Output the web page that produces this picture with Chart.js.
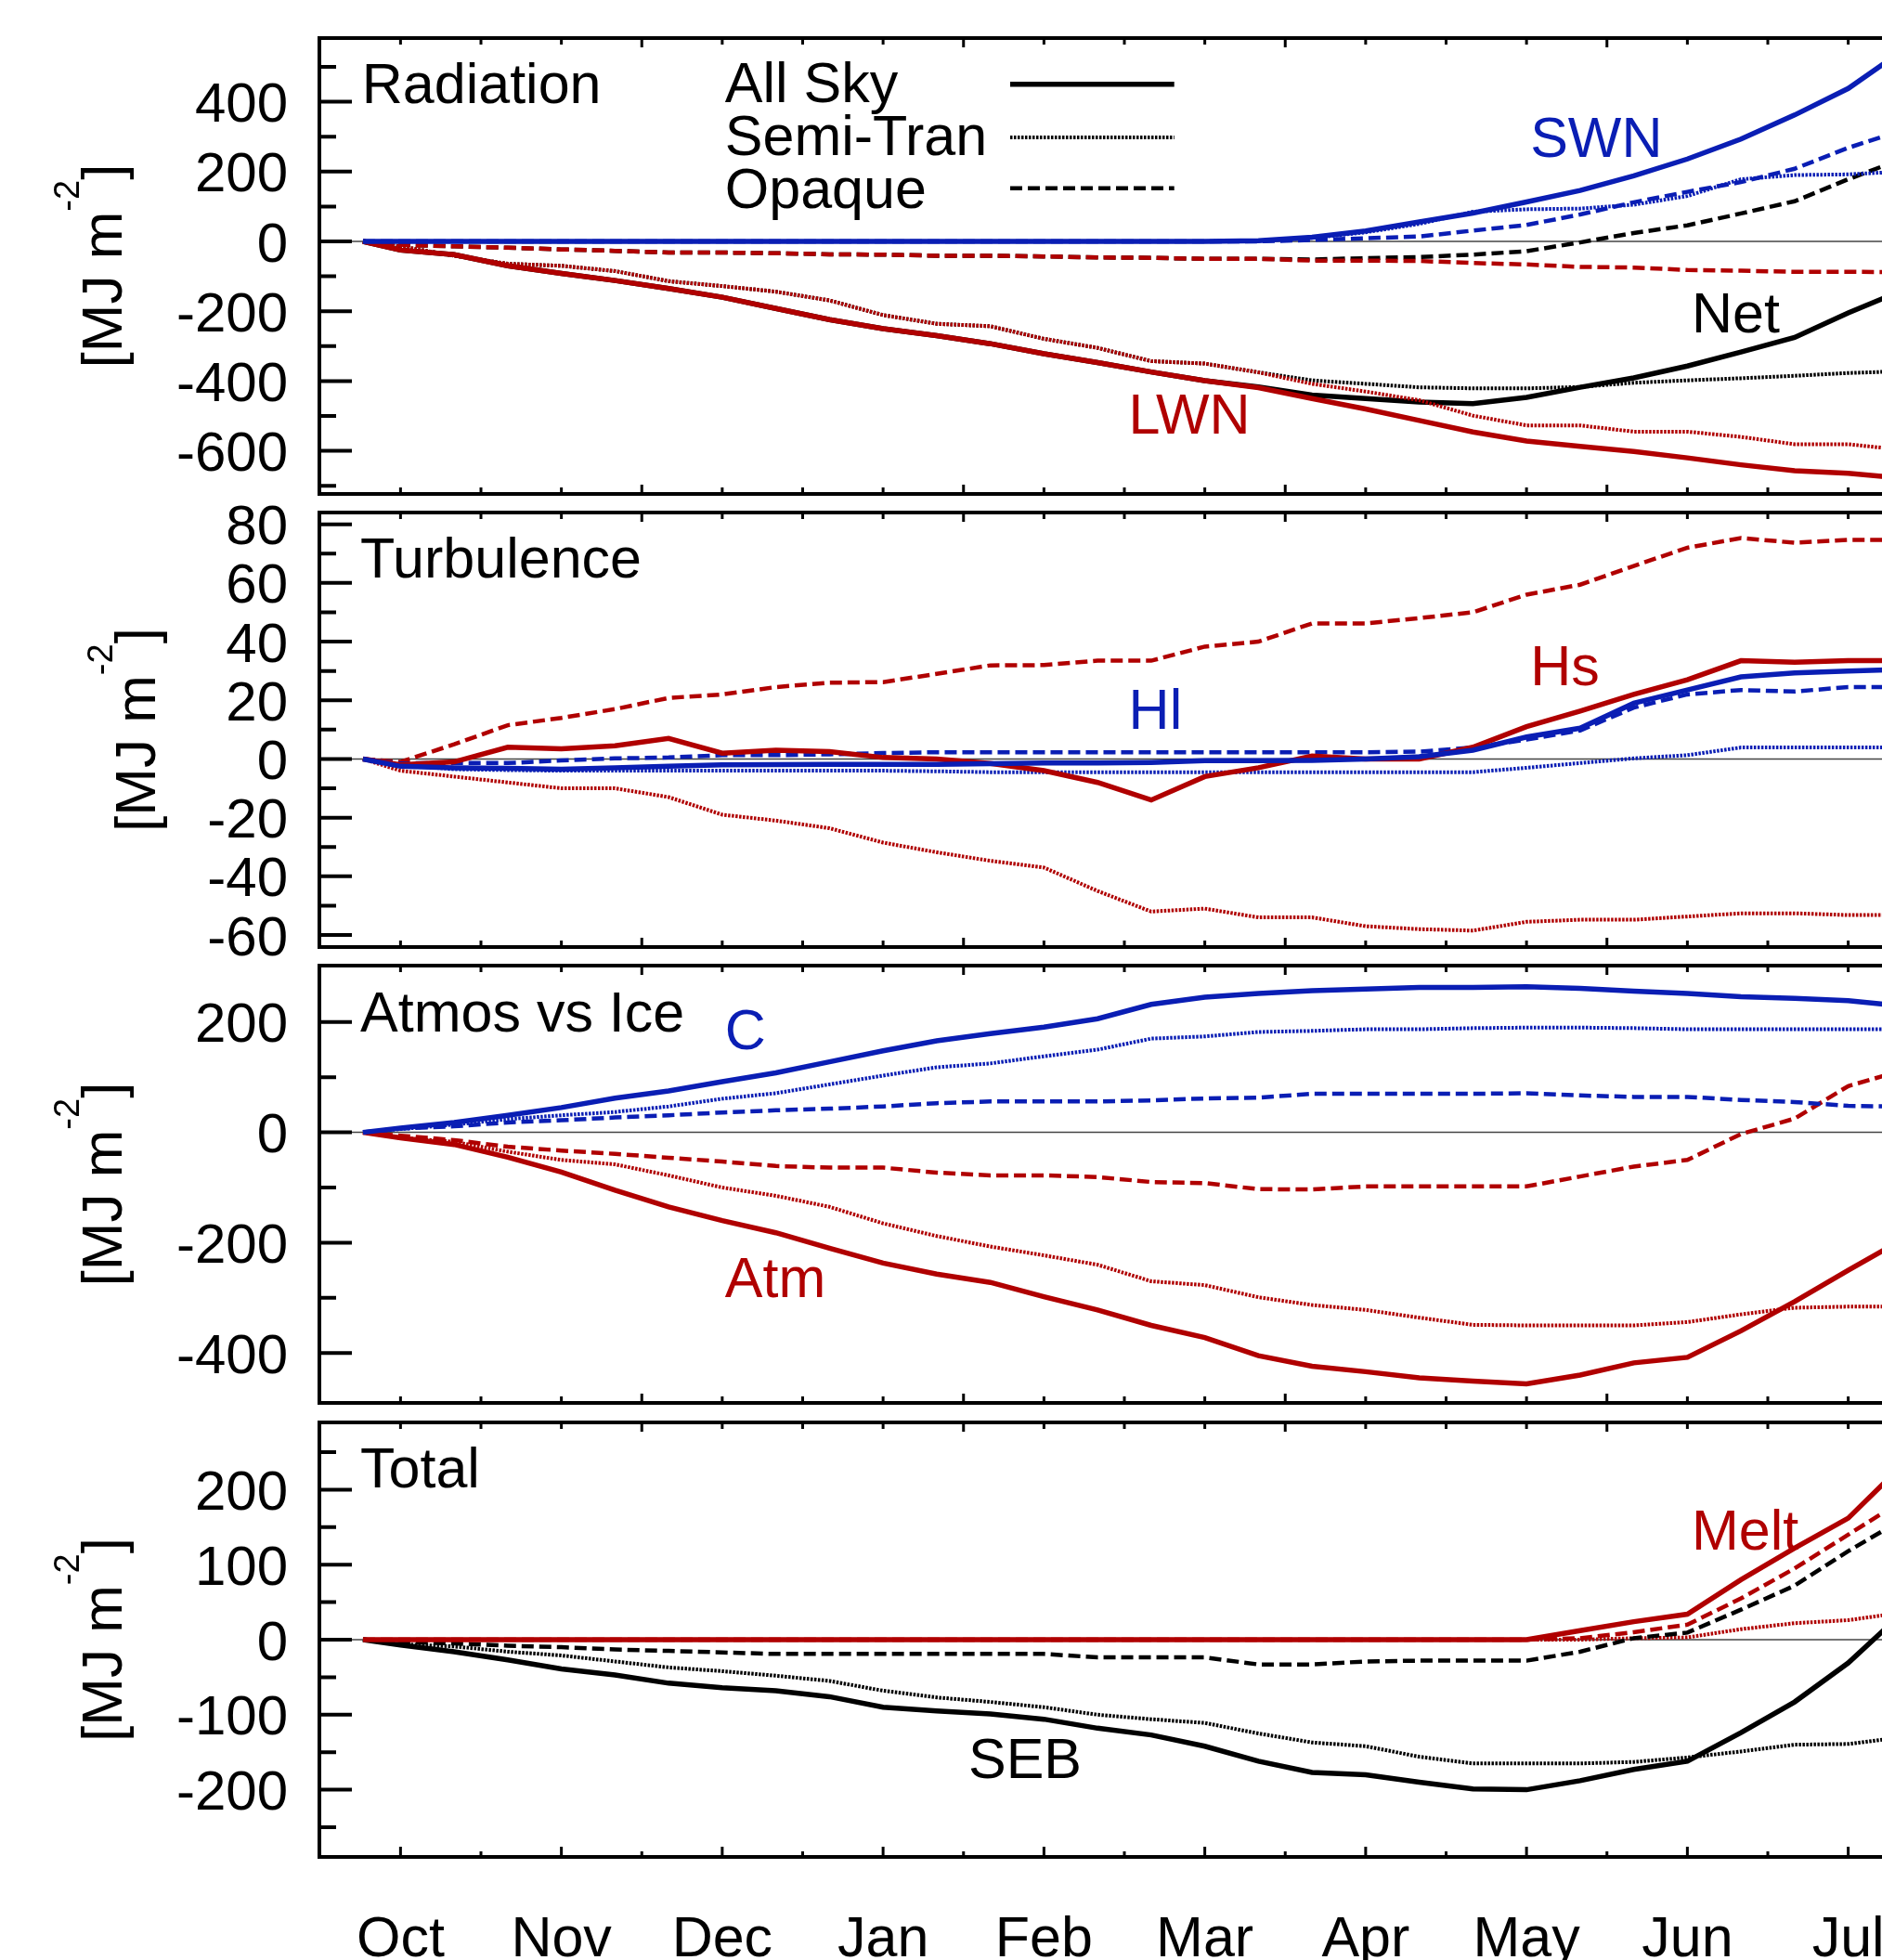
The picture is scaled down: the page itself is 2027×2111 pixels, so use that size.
<!DOCTYPE html>
<html>
<head>
<meta charset="utf-8">
<script src="https://cdn.jsdelivr.net/npm/chart.js@4.4.1/dist/chart.umd.min.js"></script>
<style>
  html, body { margin: 0; padding: 0; background: #fff; overflow: hidden; width: 2027px; height: 2111px; position: relative; }
  canvas { position: absolute; left: 0; }
</style>
</head>
<body>
<canvas id="c1"></canvas>
<canvas id="c2"></canvas>
<canvas id="c3"></canvas>
<canvas id="c4"></canvas>
<script>
// days relative to the "Oct" tick, shared by every series
const days = [-7, 0, 10, 20, 30, 40, 50, 60, 70, 80, 90, 100, 110, 120, 130, 140, 150, 160, 170, 180, 190, 200, 210, 220, 230, 240, 250, 260, 270, 280];
const months = ["Oct", "Nov", "Dec", "Jan", "Feb", "Mar", "Apr", "May", "Jun", "Jul"];
const monthDays = [0, 30, 60, 90, 120, 150, 180, 210, 240, 270];

// Radiation
const swnAll  = [0,0,0,0,0,0,0,0,0,0,0,0,0,0,0,0,0,2,12,30,56,81,113,146,188,236,293,362,438,545];
const swnSemi = [0,0,0,0,0,0,0,0,0,0,0,0,0,0,0,0,0,2,10,26,50,85,92,94,105,130,178,190,192,200];
const swnOpq  = [0,0,0,0,0,0,0,0,0,0,0,0,0,0,0,0,0,0,4,9,14,31,47,77,112,142,170,208,268,318];
const lwnAll  = [0,-25,-38,-70,-92,-112,-135,-160,-192,-224,-250,-270,-293,-322,-347,-374,-399,-419,-450,-480,-513,-546,-572,-587,-602,-620,-640,-657,-664,-678];
const lwnSemi = [0,-14,-41,-64,-70,-85,-114,-128,-144,-169,-211,-236,-243,-279,-305,-343,-350,-375,-408,-430,-455,-499,-527,-527,-545,-545,-560,-581,-581,-597];
const lwnOpq  = [0,-10,-14,-18,-23,-27,-32,-32,-34,-37,-38,-41,-41,-43,-46,-47,-50,-50,-55,-55,-56,-62,-66,-73,-75,-82,-84,-87,-87,-88];
const netAll  = [0,-25,-38,-70,-92,-112,-135,-160,-192,-224,-250,-270,-293,-322,-347,-374,-399,-417,-440,-450,-460,-465,-447,-418,-391,-357,-317,-275,-205,-141];
const netSemi = [0,-14,-41,-64,-70,-85,-114,-128,-144,-169,-211,-236,-243,-279,-305,-343,-350,-375,-398,-408,-418,-421,-421,-417,-405,-398,-392,-385,-377,-372];
const netOpq  = [0,-10,-14,-18,-23,-27,-32,-32,-34,-37,-38,-41,-41,-43,-46,-47,-50,-50,-52,-48,-45,-38,-28,-3,24,46,80,115,178,236];

// Turbulence
const hsAll  = [0,-2,-1,4,3.5,4.5,7,2,3,2.5,0.5,0,-1.5,-4,-8,-14,-6,-3,1,0,0,4,11,16.3,22,27,33.5,33,33.5,33.5];
const hsSemi = [0,-4,-6,-8,-10,-10,-13,-19,-21,-23.6,-28.5,-31.8,-34.7,-37,-45,-52,-51,-54,-54,-57,-58,-58.5,-55.5,-54.8,-54.8,-53.7,-52.6,-52.6,-53.2,-53.2];
const hsOpq  = [0,-1,5,11.5,14,17,20.8,22,24.5,26,26.2,29,31.9,32,33.5,33.5,38.3,40,46.2,46.2,48,50,56,59.4,65.8,72,75.3,73.7,74.7,74.7];
const hlAll  = [0,-2.5,-3,-3.2,-3.5,-3,-2.5,-2,-1.9,-1.8,-1.8,-1.8,-1.6,-1.4,-1.4,-1.2,-0.6,-0.6,-0.5,0,0.8,3,7.5,10.5,19,23.5,28,29.3,30,30.5];
const hlSemi = [0,-2,-3.5,-3.8,-4,-4,-4,-4,-4,-4,-4,-4.2,-4.5,-4.5,-4.5,-4.5,-4.5,-4.5,-4.5,-4.5,-4.5,-4.5,-3,-1.4,0.2,1.3,3.9,3.9,3.9,3.9];
const hlOpq  = [0,-1.5,-1.4,-1.4,-0.5,0.2,0.5,1.3,1.3,1.6,2,2.3,2.3,2.3,2.3,2.3,2.3,2.3,2.3,2.3,2.5,3.9,6.6,9.7,17.5,22,23.5,23,24.5,24.5];

// Atmos vs Ice
const cAll    = [0,8,18,31,45,62,75,92,108,128,148,166,179,191,206,232,245,252,257,260,263,263,264,261,256,252,246,243,239,229];
const cSemi   = [0,6,14,24,31,37,47,61,71,87,103,118,125,138,150,170,174,182,184,187,187,189,190,190,189,187,187,187,187,187];
const cOpq    = [0,7,11,18,22,27,31,36,40,43,47,53,56,56,56,58,61.5,63,70,70,70,70,71,67,64.3,64.3,58.7,55,48,47];
const atmAll  = [0,-10,-22,-45,-72,-105,-135,-160,-182,-210,-237,-257,-272,-298,-322,-350,-372,-405,-424,-434,-445,-451,-456,-440,-418,-408,-360,-307,-250,-195];
const atmSemi = [0,-10,-17,-35,-50,-58,-78,-100,-115,-135,-165,-188,-207,-223,-240,-270,-277,-299,-313,-322,-336,-349,-350,-350,-350,-344,-330,-318,-316,-316];
const atmOpq  = [0,-6,-14,-26,-33,-39,-46,-53,-61,-64,-64,-73,-78,-78,-81,-90,-92,-103,-103.5,-98,-98,-98,-98,-80,-62,-50,-3,25,84,112];

// Total
const sebAll   = [0,-7,-16,-27,-39,-47,-58,-64,-68,-76,-90,-95,-99,-106,-118,-127,-142,-162,-177,-180,-190,-199,-200,-188,-173,-162,-124,-83,-31,35];
const sebSemi  = [0,-6,-9,-16,-21,-29,-37,-42,-48,-55,-68,-77,-83,-90,-100,-106,-111,-125,-137,-142,-156,-165,-165,-165,-163,-157,-149,-140,-139,-130];
const sebOpq   = [0,-3,-5,-8,-10,-13,-15,-17,-19,-19,-19,-19,-19,-19,-23.6,-23.6,-23.6,-33,-33,-29,-28,-28,-28,-16,2,9.4,40,72,118,160];
const meltAll  = [0,0,0,0,0,0,0,0,0,0,0,0,0,0,0,0,0,0,0,0,0,0,0,12,24,34,80,122,162,232];
const meltSemi = [0,0,0,0,0,0,0,0,0,0,0,0,0,0,0,0,0,0,0,0,0,0,0,0,2,3,14,22,26,36];
const meltOpq  = [0,0,0,0,0,0,0,0,0,0,0,0,0,0,0,0,0,0,0,0,0,0,0,2,10,20,55,95,140,185];

// y tick labels and minor ticks
const radTicks = [400, 200, 0, -200, -400, -600];
const radMinor = [500, 300, 100, -100, -300, -500, -700];
const turbTicks = [80, 60, 40, 20, 0, -20, -40, -60];
const turbMinor = [70, 50, 30, 10, -10, -30, -50];
const aviTicks = [200, 0, -200, -400];
const aviMinor = [100, -100, -300];
const totTicks = [200, 100, 0, -100, -200];
const totMinor = [250, 150, 50, -50, -150, -250];

const RED = "#b00000";
const BLUE = "#0a1eb4";
const BLACK = "#000000";
const FONT = "'Liberation Sans', Arial, Helvetica, sans-serif";

const X_MIN = -15.13;
const PX_PER_DAY = 5.775;
const CANVAS_W = 2150;
const AXIS_W = 344;
const X_MAX = X_MIN + (CANVAS_W - AXIS_W) / PX_PER_DAY;
const PAD = 80;
const PAGE_H = 2111;
const XAXIS_H = 111;

const STYLE = {
  solid: { width: 5.5, dash: [] },
  dot: { width: 4, dash: [2.5, 1.5] },
  dash: { width: 4.5, dash: [13, 6] },
};

function line(values, color, kind) {
  return {
    data: days.map((d, i) => ({ x: d, y: values[i] })),
    borderColor: color,
    borderWidth: STYLE[kind].width,
    borderDash: STYLE[kind].dash,
    pointRadius: 0,
    tension: 0,
    fill: false,
  };
}

const panels = [
  {
    id: "c1", top: 41, bottom: 532, yMin: -723.4, yMax: 582.4,
    ticks: radTicks, minor: radMinor, titleX: 131,
    datasets: [
      line(swnAll, BLUE, "solid"), line(swnSemi, BLUE, "dot"), line(swnOpq, BLUE, "dash"),
      line(lwnAll, RED, "solid"), line(lwnSemi, RED, "dot"), line(lwnOpq, RED, "dash"),
      line(netAll, BLACK, "solid"), line(netSemi, BLACK, "dot"), line(netOpq, BLACK, "dash"),
    ],
    texts: [
      { t: "Radiation", d: -7.2, v: 396, c: BLACK },
      { t: "All Sky", d: 60.5, v: 399, c: BLACK },
      { t: "Semi-Tran", d: 60.5, v: 247, c: BLACK },
      { t: "Opaque", d: 60.5, v: 96, c: BLACK },
      { t: "SWN", d: 210.7, v: 242, c: BLUE },
      { t: "Net", d: 240.8, v: -261, c: BLACK },
      { t: "LWN", d: 135.8, v: -550, c: RED },
    ],
    legend: [
      { kind: "solid", v: 450 },
      { kind: "dot", v: 298 },
      { kind: "dash", v: 152 },
    ],
  },
  {
    id: "c2", top: 552, bottom: 1020, yMin: -64.1, yMax: 84.0,
    ticks: turbTicks, minor: turbMinor, titleX: 167,
    datasets: [
      line(hlAll, BLUE, "solid"), line(hsAll, RED, "solid"),
      line(hlOpq, BLUE, "dash"), line(hsOpq, RED, "dash"),
      line(hlSemi, BLUE, "dot"), line(hsSemi, RED, "dot"),
    ],
    texts: [
      { t: "Turbulence", d: -7.5, v: 62, c: BLACK },
      { t: "Hl", d: 135.8, v: 10.3, c: BLUE },
      { t: "Hs", d: 210.7, v: 25.1, c: RED },
    ],
  },
  {
    id: "c3", top: 1040, bottom: 1511, yMin: -490.6, yMax: 302.4,
    ticks: aviTicks, minor: aviMinor, titleX: 131,
    datasets: [
      line(cAll, BLUE, "solid"), line(atmAll, RED, "solid"),
      line(cSemi, BLUE, "dot"), line(atmSemi, RED, "dot"),
      line(cOpq, BLUE, "dash"), line(atmOpq, RED, "dash"),
    ],
    texts: [
      { t: "Atmos vs Ice", d: -7.5, v: 183, c: BLACK },
      { t: "C", d: 60.5, v: 151, c: BLUE },
      { t: "Atm", d: 60.5, v: -298.6, c: RED },
    ],
  },
  {
    id: "c4", top: 1532, bottom: 2000, yMin: -289.6, yMax: 289.6,
    ticks: totTicks, minor: totMinor, titleX: 131, last: true,
    datasets: [
      line(meltAll, RED, "solid"),
      line(sebAll, BLACK, "solid"), line(sebSemi, BLACK, "dot"), line(sebOpq, BLACK, "dash"),
      line(meltSemi, RED, "dot"), line(meltOpq, RED, "dash"),
    ],
    texts: [
      { t: "Total", d: -7.5, v: 203.5, c: BLACK },
      { t: "Melt", d: 240.8, v: 120, c: RED },
      { t: "SEB", d: 105.9, v: -184.4, c: BLACK },
    ],
  },
];

function drawYTitle(ctx, baseX, centerY) {
  const main = "[MJ m", sup = "-2", close = "]";
  ctx.save();
  ctx.fillStyle = BLACK;
  ctx.textBaseline = "alphabetic";
  ctx.textAlign = "left";
  ctx.font = `62px ${FONT}`;
  const w1 = ctx.measureText(main).width;
  const w3 = ctx.measureText(close).width;
  ctx.font = `38px ${FONT}`;
  const w2 = ctx.measureText(sup).width;
  ctx.translate(baseX, centerY);
  ctx.rotate(-Math.PI / 2);
  let x = -(w1 + w2 + w3) / 2;
  ctx.font = `62px ${FONT}`;
  ctx.fillText(main, x, 0);
  x += w1;
  ctx.font = `38px ${FONT}`;
  ctx.fillText(sup, x, -46);
  x += w2;
  ctx.font = `62px ${FONT}`;
  ctx.fillText(close, x, 0);
  ctx.restore();
}

function makeFramePlugin(panel) {
  return {
    id: "frame" + panel.id,
    beforeDatasetsDraw(chart) {
      const { ctx, chartArea } = chart;
      const y0 = chart.scales.y.getPixelForValue(0);
      ctx.save();
      ctx.strokeStyle = "#444";
      ctx.lineWidth = 1.5;
      ctx.beginPath();
      ctx.moveTo(chartArea.left, y0);
      ctx.lineTo(chartArea.right, y0);
      ctx.stroke();
      ctx.restore();
    },
    afterDatasetsDraw(chart) {
      const { ctx, chartArea } = chart;
      const { left, right, top, bottom } = chartArea;
      const xs = chart.scales.x, ys = chart.scales.y;
      ctx.save();
      ctx.strokeStyle = BLACK;
      ctx.setLineDash([]);

      // y ticks, pointing inward
      ctx.lineWidth = 4;
      ctx.beginPath();
      panel.ticks.forEach((v) => {
        const p = ys.getPixelForValue(v);
        ctx.moveTo(left, p); ctx.lineTo(left + 35, p);
      });
      panel.minor.forEach((v) => {
        const p = ys.getPixelForValue(v);
        ctx.moveTo(left, p); ctx.lineTo(left + 18, p);
      });
      ctx.stroke();

      // x ticks on top and bottom, every 15 days
      ctx.lineWidth = 3;
      ctx.beginPath();
      for (let d = -15; d < X_MAX; d += 15) {
        const p = xs.getPixelForValue(d);
        if (p < left + 4) continue;
        const lenTop = ((d - 45) % 60 === 0) ? 10 : 7;
        const lenBot = panel.last ? (d % 30 === 0 ? 11 : 6) : lenTop;
        ctx.moveTo(p, top); ctx.lineTo(p, top + lenTop);
        ctx.moveTo(p, bottom); ctx.lineTo(p, bottom - lenBot);
      }
      ctx.stroke();

      // frame
      ctx.lineWidth = 4;
      ctx.strokeRect(left, top, right - left, bottom - top);

      // legend lines
      if (panel.legend) {
        panel.legend.forEach((l) => {
          ctx.strokeStyle = BLACK;
          ctx.lineWidth = STYLE[l.kind].width;
          ctx.setLineDash(STYLE[l.kind].dash);
          const py = ys.getPixelForValue(l.v);
          ctx.beginPath();
          ctx.moveTo(xs.getPixelForValue(113.7), py);
          ctx.lineTo(xs.getPixelForValue(144.3), py);
          ctx.stroke();
        });
        ctx.setLineDash([]);
      }

      // labels
      ctx.textAlign = "left";
      ctx.textBaseline = "alphabetic";
      ctx.font = `61px ${FONT}`;
      panel.texts.forEach((t) => {
        ctx.fillStyle = t.c;
        ctx.fillText(t.t, xs.getPixelForValue(t.d), ys.getPixelForValue(t.v));
      });
      ctx.restore();

      drawYTitle(ctx, panel.titleX, (top + bottom) / 2);
    },
  };
}

panels.forEach((panel) => {
  const canvas = document.getElementById(panel.id);
  const canvasTop = panel.top - PAD;
  const height = panel.last ? PAGE_H - canvasTop : panel.bottom - panel.top + 2 * PAD;
  canvas.width = CANVAS_W;
  canvas.height = height;
  canvas.style.top = canvasTop + "px";
  canvas.style.width = CANVAS_W + "px";
  canvas.style.height = height + "px";

  new Chart(canvas, {
    type: "line",
    data: { datasets: panel.datasets },
    options: {
      responsive: false,
      animation: false,
      devicePixelRatio: 1,
      events: [],
      layout: { padding: { top: PAD, bottom: panel.last ? 0 : PAD, left: 0, right: 0 } },
      plugins: { legend: { display: false }, tooltip: { enabled: false } },
      scales: {
        x: {
          type: "linear",
          min: X_MIN,
          max: X_MAX,
          grid: { display: false },
          border: { display: false },
          afterBuildTicks: (s) => { s.ticks = monthDays.map((v) => ({ value: v })); },
          afterFit: (s) => { s.height = panel.last ? XAXIS_H : 0; },
          ticks: {
            display: !!panel.last,
            autoSkip: false,
            maxRotation: 0,
            minRotation: 0,
            padding: 52,
            color: BLACK,
            font: { family: FONT, size: 61, lineHeight: 1 },
            callback: (v) => months[monthDays.indexOf(v)],
          },
        },
        y: {
          type: "linear",
          min: panel.yMin,
          max: panel.yMax,
          grid: { display: false },
          border: { display: false },
          afterBuildTicks: (s) => { s.ticks = panel.ticks.map((v) => ({ value: v })); },
          afterFit: (s) => { s.width = AXIS_W; },
          ticks: {
            autoSkip: false,
            padding: 26,
            labelOffset: 5,
            color: BLACK,
            font: { family: FONT, size: 60, lineHeight: 1 },
            callback: (v) => String(v),
          },
        },
      },
    },
    plugins: [makeFramePlugin(panel)],
  });
});
</script>
</body>
</html>
